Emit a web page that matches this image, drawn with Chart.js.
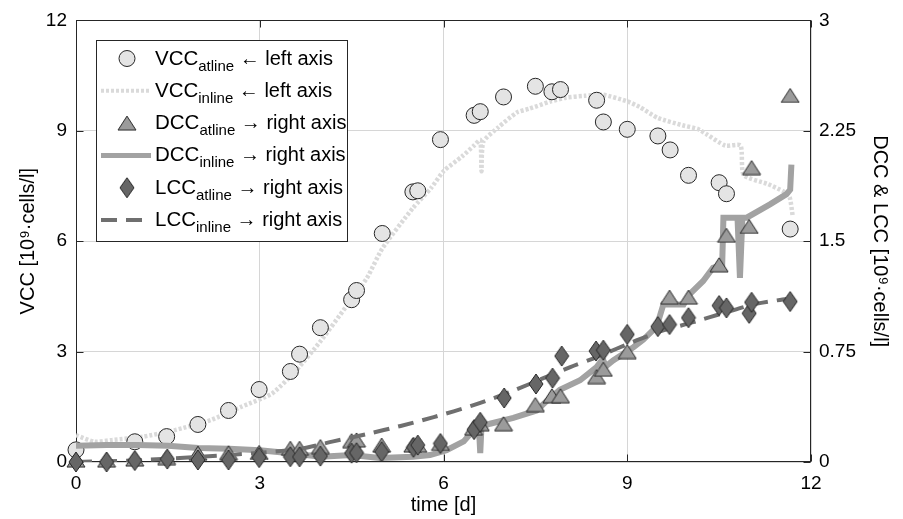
<!DOCTYPE html>
<html>
<head>
<meta charset="utf-8">
<title>VCC, DCC and LCC over time</title>
<script src="https://cdn.jsdelivr.net/npm/chart.js@4/dist/chart.umd.min.js"></script>
<style>
  html, body { margin: 0; padding: 0; background: #fff; }
  #chart { display: block; }
</style>
</head>
<body>
<canvas id="chart" width="903" height="519"></canvas>
<script>
/* ── Data ── */
// VCC atline, left axis [10^9 cells/l]
const vccAtT = [0, 0.96, 1.48, 1.99, 2.49, 2.99, 3.5, 3.65, 3.99, 4.5, 4.58, 5.0, 5.5, 5.58, 5.95, 6.5, 6.6, 6.98, 7.5, 7.77, 7.91, 8.5, 8.61, 9.0, 9.5, 9.7, 10.0, 10.5, 10.62, 11.66];
const vccAt  = [0.33, 0.55, 0.69, 1.02, 1.40, 1.97, 2.46, 2.93, 3.65, 4.41, 4.66, 6.21, 7.34, 7.37, 8.76, 9.42, 9.52, 9.92, 10.21, 10.06, 10.12, 9.83, 9.24, 9.04, 8.86, 8.48, 7.79, 7.59, 7.29, 6.33];

// VCC inline, left axis
const vccInT = [0, 0.3, 0.6, 1.1, 1.6, 2.2, 2.7, 3.2, 3.6, 4.0, 4.4, 4.75, 5.0, 5.5, 5.8, 6.0, 6.3, 6.5, 6.6, 6.62, 6.65, 6.9, 7.2, 7.4, 7.75, 8.0, 8.3, 8.6, 9.0, 9.2, 9.5, 9.9, 10.15, 10.3, 10.6, 10.85, 10.9, 11.3, 11.55, 11.65, 11.7];
const vccIn  = [0.73, 0.55, 0.6, 0.69, 0.86, 1.14, 1.5, 1.86, 2.5, 3.3, 4.2, 5.0, 5.8, 6.9, 7.45, 7.9, 8.3, 8.6, 8.75, 7.9, 8.7, 9.1, 9.5, 9.6, 9.8, 9.9, 9.95, 9.98, 9.8, 9.65, 9.35, 9.15, 9.05, 8.9, 8.6, 8.6, 7.8, 7.55, 7.35, 7.2, 6.7];

// DCC atline, right axis
const dccAtT = [0, 0.5, 0.96, 1.48, 1.99, 2.49, 2.99, 3.5, 3.65, 3.99, 4.5, 4.58, 4.99, 5.5, 5.58, 5.95, 6.49, 6.6, 6.98, 7.5, 7.77, 7.91, 8.5, 8.61, 9.0, 9.69, 10.0, 10.5, 10.62, 10.99, 11.03, 11.66];
const dccAt  = [0.013, 0.013, 0.02, 0.03, 0.06, 0.063, 0.065, 0.093, 0.093, 0.105, 0.145, 0.15, 0.115, 0.115, 0.115, 0.126, 0.23, 0.26, 0.26, 0.39, 0.45, 0.45, 0.58, 0.63, 0.75, 1.12, 1.12, 1.34, 1.54, 1.60, 2.0, 2.49];

// DCC inline, right axis
const dccInT = [0, 0.5, 1.0, 1.5, 2.0, 2.5, 3.0, 3.5, 4.0, 4.5, 4.96, 5.5, 5.78, 6.05, 6.33, 6.5, 6.58, 6.6, 6.62, 6.76, 7.14, 7.52, 7.7, 7.9, 8.23, 8.5, 8.6, 8.65, 8.77, 9.1, 9.26, 9.48, 9.59, 9.92, 10.02, 10.24, 10.4, 10.55, 10.57, 10.8, 10.84, 10.88, 10.95, 11.33, 11.6, 11.66, 11.68];
const dccIn  = [0.11, 0.115, 0.115, 0.11, 0.095, 0.09, 0.08, 0.06, 0.036, 0.047, 0.027, 0.035, 0.047, 0.08, 0.14, 0.22, 0.22, 0.06, 0.24, 0.26, 0.30, 0.35, 0.42, 0.49, 0.555, 0.645, 0.70, 0.65, 0.69, 0.78, 0.83, 0.92, 1.07, 1.07, 1.14, 1.23, 1.32, 1.34, 1.66, 1.66, 1.25, 1.66, 1.66, 1.75, 1.82, 1.85, 2.02];

// LCC atline, right axis
const lccAtT = [0, 0.5, 0.96, 1.49, 1.99, 2.49, 2.99, 3.5, 3.65, 3.99, 4.5, 4.58, 4.99, 5.51, 5.58, 5.95, 6.5, 6.6, 6.99, 7.51, 7.78, 7.93, 8.49, 8.61, 9.0, 9.5, 9.69, 10.0, 10.5, 10.62, 10.99, 11.03, 11.66];
const lccAt  = [0.0, 0.0, 0.01, 0.02, 0.014, 0.014, 0.03, 0.036, 0.035, 0.04, 0.06, 0.063, 0.07, 0.10, 0.115, 0.126, 0.22, 0.27, 0.435, 0.53, 0.57, 0.72, 0.754, 0.76, 0.867, 0.92, 0.934, 0.98, 1.063, 1.047, 1.01, 1.085, 1.09];

// LCC inline, right axis
const lccInT = [0, 1, 2, 3, 3.66, 4.2, 4.75, 5.3, 5.84, 6.49, 7.09, 7.68, 8.07, 8.5, 9.15, 9.59, 10.08, 10.62, 11.1, 11.6];
const lccIn  = [0, 0.012, 0.035, 0.063, 0.09, 0.14, 0.19, 0.245, 0.305, 0.386, 0.476, 0.578, 0.645, 0.713, 0.826, 0.894, 0.95, 1.018, 1.074, 1.108];

// Axes
const xTicks = [0, 3, 6, 9, 12];
const vccTicks = [0, 3, 6, 9, 12];
const cellTicks = [0, 0.75, 1.5, 2.25, 3];
const cellTickLabels = ['0', '0.75', '1.5', '2.25', '3'];
const xTitle = 'time [d]';
const leftTitle = 'VCC [10⁹·cells/l]';
const rightTitle = 'DCC & LCC [10⁹·cells/l]';

// Legend text
const legendMain = ['VCC', 'VCC', 'DCC', 'DCC', 'LCC', 'LCC'];
const legendSub  = ['atline', 'inline', 'atline', 'inline', 'atline', 'inline'];
const legendRest = ['← left axis', '← left axis', '→ right axis', '→ right axis', '→ right axis', '→ right axis'];

/* ── Styles ── */
const FONT = "'Liberation Sans', Arial, Helvetica, sans-serif";
const C_VCC_AT = '#e4e4e4';
const C_VCC_IN = '#dadada';
const C_DCC_AT = '#9b9b9b';
const C_DCC_IN = '#a2a2a2';
const C_LCC_AT = '#666666';
const C_LCC_IN = '#6f6f6f';
const C_EDGE = '#262626';
const DASH_LCC = [16, 9];
const DASH_VCC = [3, 2];

const pts = (t, v) => t.map((x, i) => ({ x, y: v[i] }));

function markerCanvas(kind) {
  const c = document.createElement('canvas');
  const g = c.getContext('2d');
  g.beginPath();
  if (kind === 'triangle') {
    c.width = 20; c.height = 16;
    g.moveTo(10, 1); g.lineTo(19, 15); g.lineTo(1, 15);
    g.fillStyle = C_DCC_AT;
  } else {
    c.width = 16; c.height = 22;
    g.moveTo(8, 1); g.lineTo(15, 11); g.lineTo(8, 21); g.lineTo(1, 11);
    g.fillStyle = C_LCC_AT;
  }
  g.closePath();
  g.fill();
  g.lineWidth = 1;
  g.strokeStyle = C_EDGE;
  g.stroke();
  return c;
}
const triImg = markerCanvas('triangle');
const diaImg = markerCanvas('diamond');

/* ── Plugins ── */
// axis box with inward ticks, drawn below the data like the original
const frame = {
  id: 'frame',
  beforeDatasetsDraw(chart) {
    const { ctx, chartArea: a, scales } = chart;
    const L = Math.round(a.left) + 0.5, R = Math.round(a.right) - 0.5;
    const T = Math.round(a.top) + 0.5, B = Math.round(a.bottom) - 0.5;
    ctx.save();
    ctx.strokeStyle = C_EDGE;
    ctx.lineWidth = 1;
    ctx.strokeRect(L, T, R - L, B - T);
    ctx.beginPath();
    xTicks.forEach(v => {
      const x = Math.round(scales.x.getPixelForValue(v)) + 0.5;
      ctx.moveTo(x, B); ctx.lineTo(x, B - 7);
      ctx.moveTo(x, T); ctx.lineTo(x, T + 7);
    });
    vccTicks.forEach(v => {
      const y = Math.round(scales.yL.getPixelForValue(v)) + 0.5;
      ctx.moveTo(L, y); ctx.lineTo(L + 7, y);
    });
    cellTicks.forEach(v => {
      const y = Math.round(scales.yR.getPixelForValue(v)) + 0.5;
      ctx.moveTo(R, y); ctx.lineTo(R - 7, y);
    });
    ctx.stroke();
    ctx.restore();
  }
};

// legend box with subscripts
const subLegend = {
  id: 'subLegend',
  afterDraw(chart) {
    const ctx = chart.ctx;
    const bx = 96.5, by = 40.5, bw = 251, bh = 201;
    ctx.save();
    ctx.fillStyle = '#fff';
    ctx.fillRect(bx, by, bw, bh);
    ctx.strokeStyle = C_EDGE;
    ctx.lineWidth = 1;
    ctx.strokeRect(bx, by, bw, bh);

    legendMain.forEach((main, i) => {
      const base = 64.5 + i * 32.3;   // baseline of main text
      const my = base - 6;            // marker centre
      // sample
      if (i === 0) {
        ctx.beginPath();
        ctx.arc(127, my, 8, 0, Math.PI * 2);
        ctx.fillStyle = C_VCC_AT; ctx.fill();
        ctx.strokeStyle = C_EDGE; ctx.lineWidth = 1; ctx.stroke();
      } else if (i === 2) {
        ctx.drawImage(triImg, 127 - triImg.width / 2, my - triImg.height / 2);
      } else if (i === 4) {
        ctx.drawImage(diaImg, 127 - diaImg.width / 2, my - diaImg.height / 2);
      } else {
        ctx.beginPath();
        ctx.moveTo(101, my); ctx.lineTo(151, my);
        if (i === 1) { ctx.strokeStyle = C_VCC_IN; ctx.lineWidth = 4; ctx.setLineDash(DASH_VCC); }
        if (i === 3) { ctx.strokeStyle = C_DCC_IN; ctx.lineWidth = 5; ctx.setLineDash([]); }
        if (i === 5) { ctx.strokeStyle = C_LCC_IN; ctx.lineWidth = 4; ctx.setLineDash(DASH_LCC); }
        ctx.stroke();
        ctx.setLineDash([]);
      }
      // text
      ctx.fillStyle = '#000';
      ctx.textBaseline = 'alphabetic';
      ctx.textAlign = 'left';
      let x = 155;
      ctx.font = `20.5px ${FONT}`;
      ctx.fillText(main, x, base);
      x += ctx.measureText(main).width;
      ctx.font = `15px ${FONT}`;
      ctx.fillText(legendSub[i], x, base + 6);
      x += ctx.measureText(legendSub[i]).width;
      ctx.font = `20px ${FONT}`;
      x += ctx.measureText(' ').width;
      ctx.fillText(legendRest[i], x, base);
    });
    ctx.restore();
  }
};

/* ── Chart ── */
const tickFont = { family: FONT, size: 19 };
const titleFont = { family: FONT, size: 20 };

new Chart(document.getElementById('chart'), {
  data: {
    datasets: [
      {
        type: 'scatter', label: 'LCC atline', yAxisID: 'yR', order: 1,
        data: pts(lccAtT, lccAt),
        pointStyle: diaImg, pointRadius: 8, clip: false
      },
      {
        type: 'line', label: 'LCC inline', yAxisID: 'yR', order: 2,
        data: pts(lccInT, lccIn),
        borderColor: C_LCC_IN, borderWidth: 4, borderDash: DASH_LCC,
        pointRadius: 0, tension: 0.3
      },
      {
        type: 'scatter', label: 'DCC atline', yAxisID: 'yR', order: 3,
        data: pts(dccAtT, dccAt),
        pointStyle: triImg, pointRadius: 8, clip: false
      },
      {
        type: 'line', label: 'DCC inline', yAxisID: 'yR', order: 4,
        data: pts(dccInT, dccIn),
        borderColor: C_DCC_IN, borderWidth: 6,
        pointRadius: 0, tension: 0
      },
      {
        type: 'scatter', label: 'VCC atline', yAxisID: 'yL', order: 5,
        data: pts(vccAtT, vccAt),
        pointStyle: 'circle', pointRadius: 8,
        backgroundColor: C_VCC_AT, borderColor: C_EDGE, borderWidth: 1, clip: false
      },
      {
        type: 'line', label: 'VCC inline', yAxisID: 'yL', order: 6,
        data: pts(vccInT, vccIn),
        borderColor: C_VCC_IN, borderWidth: 4.5, borderDash: DASH_VCC,
        pointRadius: 0, tension: 0.2
      }
    ]
  },
  options: {
    responsive: false,
    animation: false,
    events: [],
    layout: { padding: { top: 19 } },
    plugins: { legend: { display: false }, tooltip: { enabled: false } },
    scales: {
      x: {
        type: 'linear', min: 0, max: 12,
        afterBuildTicks: s => { s.ticks = xTicks.map(v => ({ value: v })); },
        afterFit: s => { s.height = 57; },
        grid: { color: '#d6d6d6', drawTicks: false },
        border: { display: false },
        ticks: { color: '#000', font: tickFont, padding: 10, maxRotation: 0 },
        title: { display: true, text: xTitle, color: '#000', font: titleFont, padding: { top: 0, bottom: 2 } }
      },
      yL: {
        type: 'linear', position: 'left', min: 0, max: 12,
        afterBuildTicks: s => { s.ticks = vccTicks.map(v => ({ value: v })); },
        afterFit: s => { s.width = 76; },
        grid: { color: '#d6d6d6', drawTicks: false },
        border: { display: false },
        ticks: { color: '#000', font: tickFont, padding: 9 },
        title: { display: true, text: leftTitle, color: '#000', font: titleFont, padding: { top: 16, bottom: 0 } }
      },
      yR: {
        type: 'linear', position: 'right', min: 0, max: 3,
        afterBuildTicks: s => { s.ticks = cellTicks.map(v => ({ value: v })); },
        afterFit: s => { s.width = 92; },
        grid: { display: false, drawTicks: false },
        border: { display: false },
        ticks: { color: '#000', font: tickFont, padding: 8, callback: (v, i) => cellTickLabels[i] },
        title: { display: true, text: rightTitle, color: '#000', font: titleFont, padding: { top: 11, bottom: 0 } }
      }
    }
  },
  plugins: [frame, subLegend]
});
</script>
</body>
</html>
